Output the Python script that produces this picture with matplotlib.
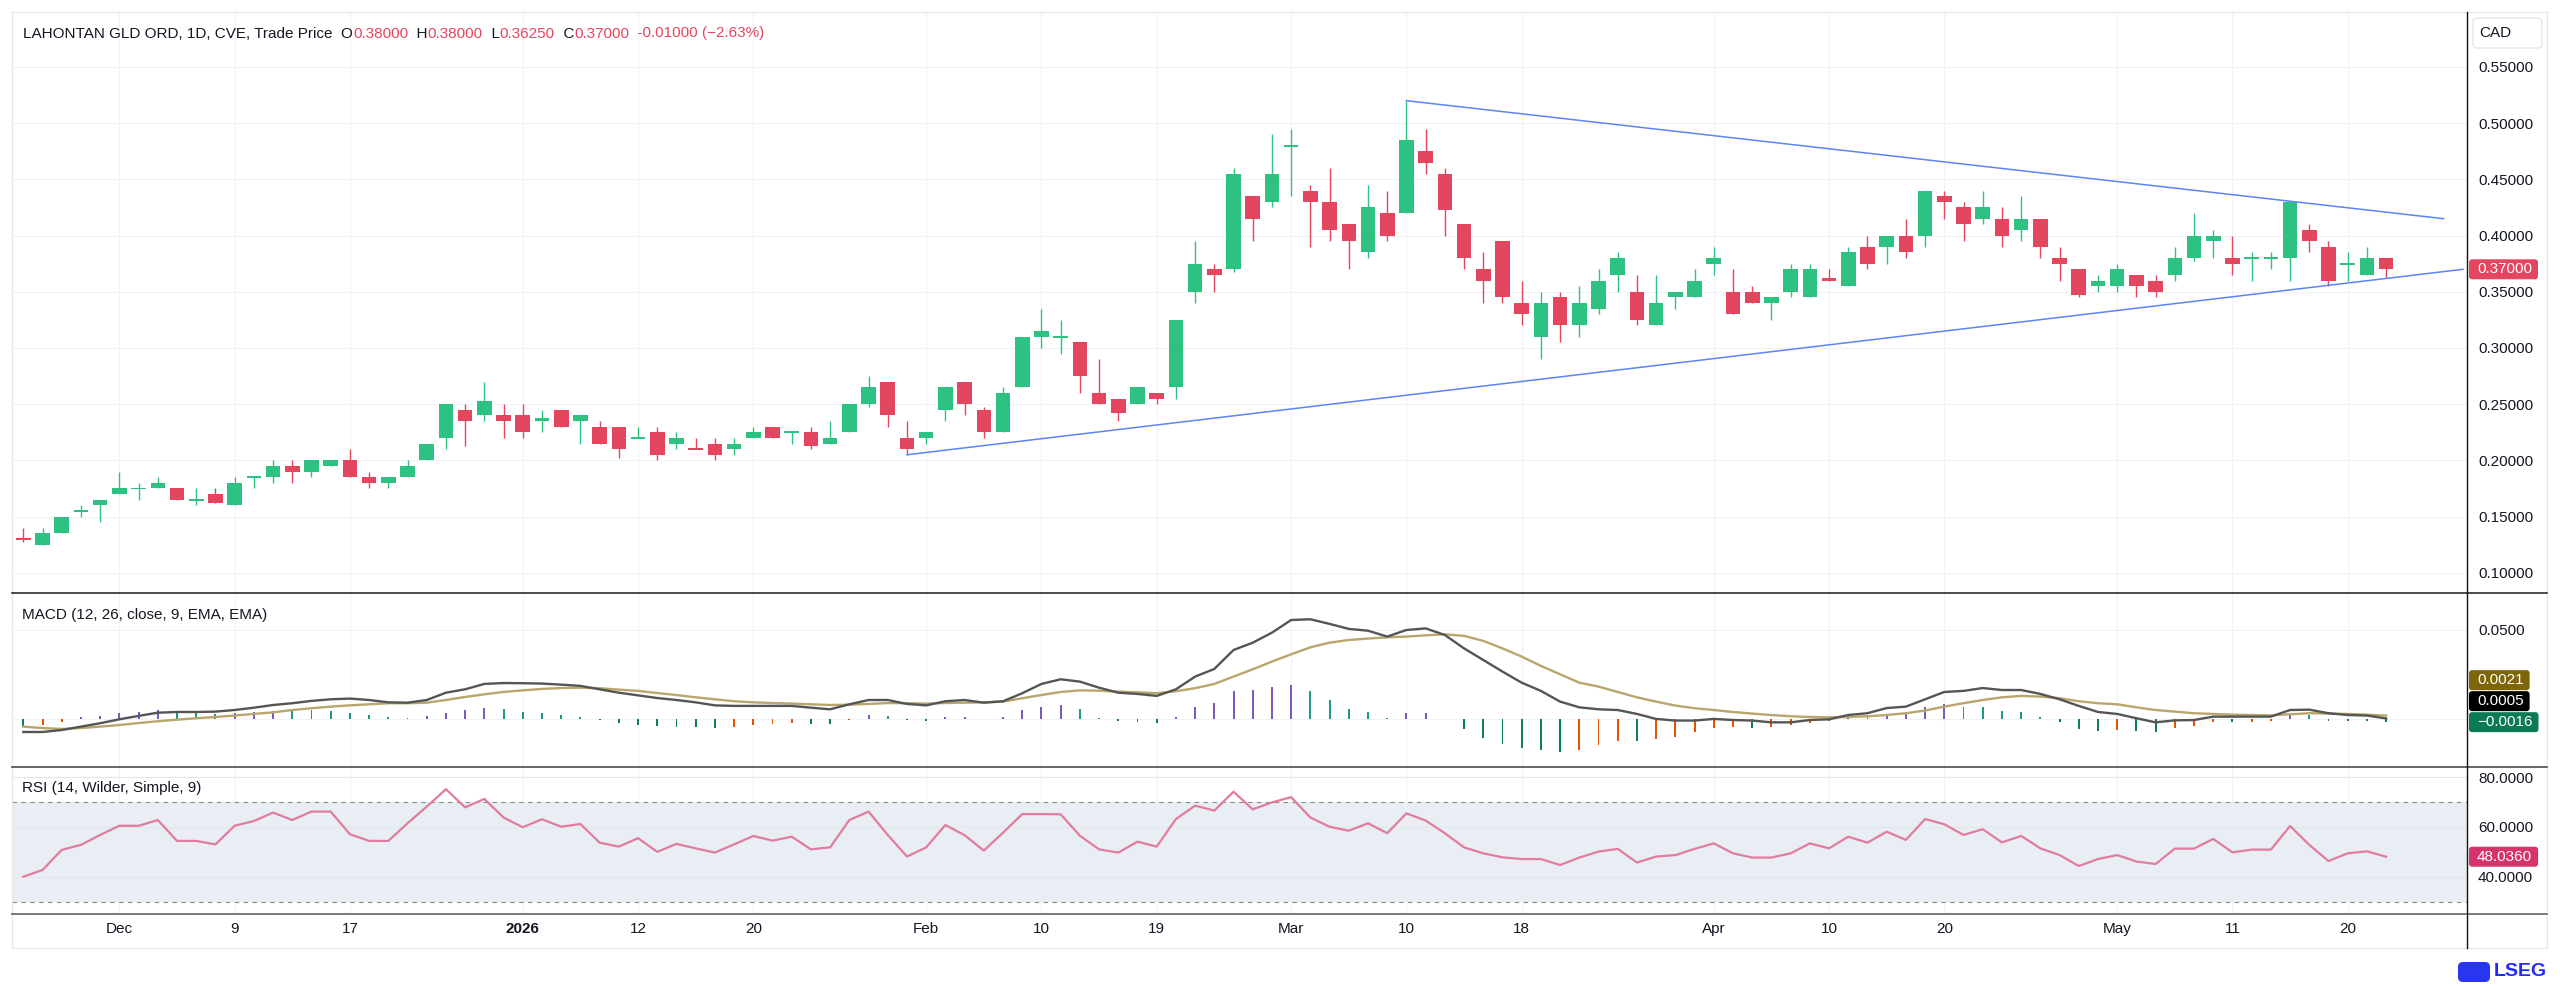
import numpy as np
import matplotlib
matplotlib.use("Agg")
import matplotlib.pyplot as plt
from matplotlib.lines import Line2D
from matplotlib.patches import FancyBboxPatch, Rectangle
import matplotlib.transforms as mtransforms

plt.rcParams["font.family"] = ["Liberation Sans", "DejaVu Sans"]

# ── candles (one per trading day, Nov 24 -> May 22) ─────────────────────
opens = [0.1305, 0.125, 0.135, 0.155, 0.16, 0.17, 0.175, 0.175, 0.175, 0.165,
         0.17, 0.16, 0.185, 0.185, 0.195, 0.19, 0.195, 0.20, 0.185, 0.18,
         0.185, 0.20, 0.22, 0.245, 0.24, 0.24, 0.24, 0.235, 0.245, 0.235,
         0.23, 0.23, 0.22, 0.225, 0.215, 0.2105, 0.215, 0.21, 0.22, 0.23,
         0.225, 0.225, 0.215, 0.225, 0.25, 0.27, 0.22, 0.22, 0.245, 0.27,
         0.245, 0.225, 0.265, 0.31, 0.31, 0.305, 0.26, 0.255, 0.25, 0.26,
         0.265, 0.35, 0.37, 0.37, 0.435, 0.43, 0.48, 0.44, 0.43, 0.41,
         0.385, 0.42, 0.42, 0.475, 0.455, 0.41, 0.37, 0.395, 0.34, 0.31,
         0.345, 0.32, 0.335, 0.365, 0.35, 0.32, 0.345, 0.345, 0.375, 0.35,
         0.35, 0.34, 0.35, 0.345, 0.3625, 0.355, 0.39, 0.39, 0.40, 0.40,
         0.435, 0.425, 0.415, 0.415, 0.405, 0.415, 0.38, 0.37, 0.355, 0.355,
         0.365, 0.36, 0.365, 0.38, 0.395, 0.38, 0.38, 0.38, 0.38, 0.405,
         0.39, 0.375, 0.365, 0.38]
highs = [0.14, 0.14, 0.15, 0.16, 0.165, 0.19, 0.18, 0.185, 0.175, 0.175,
         0.175, 0.185, 0.185, 0.20, 0.20, 0.20, 0.20, 0.21, 0.19, 0.185,
         0.20, 0.215, 0.25, 0.25, 0.27, 0.25, 0.25, 0.245, 0.245, 0.24,
         0.235, 0.23, 0.23, 0.23, 0.225, 0.22, 0.22, 0.22, 0.23, 0.23,
         0.225, 0.23, 0.235, 0.25, 0.275, 0.27, 0.235, 0.225, 0.265, 0.27,
         0.2475, 0.265, 0.31, 0.335, 0.325, 0.305, 0.29, 0.255, 0.265, 0.26,
         0.325, 0.395, 0.375, 0.46, 0.435, 0.49, 0.495, 0.445, 0.46, 0.41,
         0.445, 0.44, 0.52, 0.495, 0.46, 0.41, 0.385, 0.395, 0.36, 0.35,
         0.35, 0.355, 0.37, 0.385, 0.365, 0.365, 0.35, 0.37, 0.39, 0.37,
         0.355, 0.345, 0.375, 0.375, 0.37, 0.39, 0.40, 0.40, 0.415, 0.44,
         0.44, 0.43, 0.44, 0.425, 0.435, 0.415, 0.39, 0.37, 0.365, 0.375,
         0.365, 0.365, 0.39, 0.42, 0.405, 0.40, 0.385, 0.385, 0.43, 0.41,
         0.395, 0.385, 0.39, 0.38]
lows = [0.1275, 0.125, 0.135, 0.15, 0.145, 0.17, 0.165, 0.175, 0.165, 0.16,
        0.1625, 0.16, 0.175, 0.18, 0.18, 0.185, 0.195, 0.185, 0.175, 0.175,
        0.185, 0.20, 0.21, 0.2125, 0.235, 0.22, 0.22, 0.225, 0.23, 0.215,
        0.215, 0.2025, 0.22, 0.20, 0.21, 0.21, 0.20, 0.205, 0.22, 0.22,
        0.215, 0.21, 0.215, 0.225, 0.2475, 0.23, 0.205, 0.215, 0.235, 0.24,
        0.22, 0.225, 0.265, 0.30, 0.295, 0.26, 0.25, 0.235, 0.25, 0.25,
        0.255, 0.34, 0.35, 0.3675, 0.395, 0.425, 0.435, 0.39, 0.395, 0.37,
        0.38, 0.395, 0.42, 0.455, 0.40, 0.37, 0.34, 0.34, 0.32, 0.29,
        0.305, 0.31, 0.33, 0.35, 0.32, 0.32, 0.335, 0.345, 0.365, 0.33,
        0.34, 0.325, 0.345, 0.345, 0.36, 0.355, 0.37, 0.375, 0.38, 0.39,
        0.415, 0.395, 0.41, 0.39, 0.395, 0.38, 0.36, 0.345, 0.35, 0.35,
        0.345, 0.345, 0.36, 0.3775, 0.38, 0.365, 0.36, 0.37, 0.36, 0.385,
        0.355, 0.36, 0.365, 0.3625]
closes = [0.13, 0.135, 0.15, 0.155, 0.165, 0.175, 0.175, 0.18, 0.165, 0.165,
          0.1625, 0.18, 0.185, 0.195, 0.19, 0.20, 0.20, 0.185, 0.18, 0.185,
          0.195, 0.215, 0.25, 0.235, 0.2525, 0.235, 0.225, 0.2375, 0.23, 0.24,
          0.215, 0.21, 0.22, 0.205, 0.22, 0.21, 0.205, 0.215, 0.225, 0.22,
          0.225, 0.2125, 0.22, 0.25, 0.265, 0.24, 0.21, 0.225, 0.265, 0.25,
          0.225, 0.26, 0.31, 0.315, 0.31, 0.275, 0.25, 0.2425, 0.265, 0.255,
          0.325, 0.375, 0.365, 0.455, 0.415, 0.455, 0.48, 0.43, 0.405, 0.395,
          0.425, 0.40, 0.485, 0.465, 0.4225, 0.38, 0.36, 0.345, 0.33, 0.34,
          0.32, 0.34, 0.36, 0.38, 0.325, 0.34, 0.35, 0.36, 0.38, 0.33,
          0.34, 0.345, 0.37, 0.37, 0.36, 0.385, 0.375, 0.40, 0.385, 0.44,
          0.43, 0.41, 0.425, 0.40, 0.415, 0.39, 0.375, 0.3475, 0.36, 0.37,
          0.355, 0.35, 0.38, 0.40, 0.40, 0.375, 0.38, 0.38, 0.43, 0.395,
          0.36, 0.375, 0.38, 0.37]

# ── MACD (12, 26, 9) ─────────────────────────
macd_line = [-0.0071, -0.0071, -0.0060, -0.0041, -0.0022, 0.0000, 0.0019, 0.0037, 0.0041, 0.0041,
             0.0043, 0.0052, 0.0065, 0.0080, 0.0090, 0.0103, 0.0112, 0.0116, 0.0108, 0.0095,
             0.0093, 0.0108, 0.0149, 0.0168, 0.0198, 0.0203, 0.0202, 0.0200, 0.0194, 0.0187,
             0.0168, 0.0149, 0.0134, 0.0119, 0.0108, 0.0095, 0.0078, 0.0075, 0.0075, 0.0075,
             0.0075, 0.0065, 0.0056, 0.0084, 0.0108, 0.0108, 0.0086, 0.0078, 0.0101, 0.0108,
             0.0093, 0.0101, 0.0146, 0.0198, 0.0224, 0.0211, 0.0177, 0.0149, 0.0142, 0.0131,
             0.0168, 0.0239, 0.0282, 0.0388, 0.0429, 0.0485, 0.0556, 0.0560, 0.0534, 0.0506,
             0.0496, 0.0463, 0.0500, 0.0509, 0.0472, 0.0397, 0.0332, 0.0267, 0.0205, 0.0159,
             0.0099, 0.0067, 0.0056, 0.0052, 0.0030, 0.0002, -0.0007, -0.0007, 0.0002, -0.0004,
             -0.0007, -0.0017, -0.0017, -0.0004, 0.0000, 0.0024, 0.0034, 0.0063, 0.0071, 0.0112,
             0.0153, 0.0159, 0.0175, 0.0164, 0.0164, 0.0142, 0.0112, 0.0075, 0.0041, 0.0030,
             0.0006, -0.0017, -0.0006, -0.0004, 0.0015, 0.0015, 0.0015, 0.0015, 0.0052, 0.0054,
             0.0034, 0.0024, 0.0021, 0.0005]
signal_line = [-0.0041, -0.0049, -0.0054, -0.0049, -0.0041, -0.0032, -0.0021, -0.0011, -0.0002, 0.0006,
               0.0013, 0.0021, 0.0030, 0.0039, 0.0052, 0.0062, 0.0071, 0.0078, 0.0084, 0.0090,
               0.0090, 0.0093, 0.0108, 0.0125, 0.0140, 0.0153, 0.0162, 0.0170, 0.0175, 0.0177,
               0.0174, 0.0166, 0.0159, 0.0147, 0.0136, 0.0123, 0.0112, 0.0101, 0.0095, 0.0091,
               0.0088, 0.0084, 0.0080, 0.0082, 0.0086, 0.0091, 0.0090, 0.0088, 0.0091, 0.0093,
               0.0095, 0.0099, 0.0118, 0.0136, 0.0153, 0.0162, 0.0160, 0.0155, 0.0151, 0.0146,
               0.0157, 0.0174, 0.0198, 0.0239, 0.0280, 0.0323, 0.0364, 0.0403, 0.0429, 0.0444,
               0.0452, 0.0459, 0.0463, 0.0470, 0.0476, 0.0467, 0.0439, 0.0397, 0.0351, 0.0299,
               0.0252, 0.0205, 0.0183, 0.0153, 0.0123, 0.0099, 0.0077, 0.0062, 0.0052, 0.0041,
               0.0032, 0.0024, 0.0017, 0.0013, 0.0011, 0.0013, 0.0017, 0.0024, 0.0034, 0.0049,
               0.0071, 0.0090, 0.0108, 0.0123, 0.0131, 0.0127, 0.0118, 0.0101, 0.0090, 0.0084,
               0.0067, 0.0052, 0.0043, 0.0034, 0.0030, 0.0026, 0.0024, 0.0022, 0.0028, 0.0034,
               0.0032, 0.0030, 0.0026, 0.0021]
macd_hist = [-0.0035, -0.0030, -0.0013, 0.0011, 0.0021, 0.0037, 0.0043, 0.0052, 0.0041, 0.0037,
             0.0030, 0.0034, 0.0039, 0.0047, 0.0045, 0.0050, 0.0047, 0.0037, 0.0026, 0.0015,
             0.0007, 0.0017, 0.0034, 0.0052, 0.0063, 0.0058, 0.0041, 0.0034, 0.0022, 0.0015,
             -0.0006, -0.0019, -0.0030, -0.0037, -0.0041, -0.0043, -0.0047, -0.0041, -0.0034, -0.0028,
             -0.0022, -0.0026, -0.0028, -0.0004, 0.0024, 0.0019, -0.0006, -0.0011, 0.0011, 0.0015,
             0.0004, 0.0015, 0.0052, 0.0071, 0.0082, 0.0056, 0.0007, -0.0011, -0.0017, -0.0022,
             0.0015, 0.0071, 0.0093, 0.0159, 0.0164, 0.0181, 0.0192, 0.0159, 0.0108, 0.0060,
             0.0043, 0.0009, 0.0034, 0.0037, 0.0004, -0.0052, -0.0103, -0.0140, -0.0162, -0.0174,
             -0.0185, -0.0174, -0.0146, -0.0119, -0.0123, -0.0112, -0.0097, -0.0071, -0.0047, -0.0041,
             -0.0047, -0.0045, -0.0032, -0.0019, -0.0011, 0.0006, 0.0019, 0.0028, 0.0032, 0.0071,
             0.0086, 0.0071, 0.0071, 0.0047, 0.0043, 0.0015, -0.0013, -0.0052, -0.0063, -0.0060,
             -0.0063, -0.0071, -0.0050, -0.0037, -0.0013, -0.0017, -0.0013, -0.0011, 0.0024, 0.0022,
             -0.0007, -0.0011, -0.0011, -0.0016]

# ── RSI (14) ─────────────────────────────────────────────────────────────
rsi = [40.0, 42.7, 50.8, 52.8, 56.8, 60.5, 60.5, 62.8, 54.4, 54.4,
       53.0, 60.5, 62.4, 65.8, 62.8, 66.2, 66.2, 57.1, 54.4, 54.4,
       61.5, 68.2, 75.2, 67.9, 71.3, 63.8, 59.9, 63.1, 60.1, 61.2,
       53.7, 52.1, 55.5, 50.0, 53.2, 51.4, 49.7, 53.0, 56.4, 54.5,
       56.1, 51.0, 51.8, 62.8, 66.2, 56.8, 48.1, 51.8, 60.8, 56.7,
       50.5, 57.7, 65.2, 65.2, 65.1, 56.5, 51.0, 49.7, 54.1, 52.1,
       63.2, 68.6, 66.6, 74.2, 67.1, 69.9, 72.0, 63.8, 60.1, 58.5,
       61.5, 57.5, 65.5, 62.6, 57.5, 51.8, 49.4, 47.8, 47.1, 47.1,
       44.7, 47.7, 50.1, 51.2, 45.7, 48.1, 48.7, 51.2, 53.4, 49.4,
       47.7, 47.7, 49.4, 53.4, 51.4, 56.1, 53.7, 58.1, 54.8, 63.2,
       61.1, 56.8, 59.1, 53.8, 56.4, 51.4, 48.7, 44.3, 47.1, 48.7,
       46.1, 45.1, 51.3, 51.3, 55.2, 49.8, 50.9, 50.9, 60.4, 52.8,
       46.3, 49.4, 50.2, 48.036]

# time axis: bar index of each labelled session
tick_pos = [5, 11, 17, 26, 32, 38, 47, 53, 59, 66, 72, 78, 88, 94, 100, 109, 115, 121]
tick_lab = ["Dec", "9", "17", "2026", "12", "20", "Feb", "10", "19", "Mar",
            "10", "18", "Apr", "10", "20", "May", "11", "20"]

# drawn trendlines (bar index, price)
upper_trend_x = [72, 126]
upper_trend_y = [0.52, 0.415]
lower_trend_x = [46, 127]
lower_trend_y = [0.205, 0.37]

price_ticks = [0.10, 0.15, 0.20, 0.25, 0.30, 0.35, 0.40, 0.45, 0.50, 0.55]
rsi_ticks = [40, 60, 80]

# ── style ────────────────────────────────────────────────────────────────
GREEN = "#2dc281"
RED = "#e4465f"
TEXT = "#131722"
GRID = "#f0f2f5"
TREND = "#5d86f5"
W, H = 2560, 986
FS = 11

fig = plt.figure(figsize=(W / 100, H / 100), dpi=100)
fig.patch.set_facecolor("white")


def rect(x0, y0, x1, y1):
    return [x0 / W, 1 - y1 / H, (x1 - x0) / W, (y1 - y0) / H]


ax_p = fig.add_axes(rect(12, 12, 2467, 593))
ax_m = fig.add_axes(rect(12, 593, 2467, 767), sharex=ax_p)
ax_r = fig.add_axes(rect(12, 767, 2467, 914), sharex=ax_p)

for ax in (ax_p, ax_m, ax_r):
    for s in ax.spines.values():
        s.set_visible(False)
    ax.yaxis.tick_right()
    ax.tick_params(length=0, labelsize=FS, labelcolor=TEXT, pad=7.9)
    ax.tick_params(axis="x", pad=6)
    for t in tick_pos:
        ax.axvline(t, color=GRID, lw=0.8, zorder=0)
ax_p.tick_params(labelbottom=False)
ax_m.tick_params(labelbottom=False)

idx = np.arange(len(closes))
o = np.array(opens)
h = np.array(highs)
l = np.array(lows)
c = np.array(closes)

# ── price pane ───────────────────────────────────────────────────────────
for p in price_ticks:
    ax_p.axhline(p, color=GRID, lw=0.8, zorder=0)
cols = np.where(c >= o, GREEN, RED)
ax_p.vlines(idx, l, h, colors=cols, lw=1.0, zorder=2)
body = np.abs(c - o)
body_h = np.maximum(body, 0.0016)
body_b = np.minimum(o, c) - (body_h - body) / 2
ax_p.bar(idx, body_h, bottom=body_b, width=0.76, color=cols, lw=0, zorder=3)
ax_p.plot(upper_trend_x, upper_trend_y, color=TREND, lw=1.1, zorder=4)
ax_p.plot(lower_trend_x, lower_trend_y, color=TREND, lw=1.1, zorder=4)
ax_p.set_ylim(0.082, 0.5989)
ax_p.set_yticks(price_ticks)
ax_p.set_yticklabels([f"{p:.5f}" for p in price_ticks])
ax_p.set_xlim(-0.59, 127.21)

# ── MACD pane ────────────────────────────────────────────────────────────
ax_m.axhline(0.05, color=GRID, lw=0.8, zorder=0)
ax_m.axhline(0.0, color=GRID, lw=0.8, zorder=0)
hcols = []
for i, v in enumerate(macd_hist):
    prev = macd_hist[i - 1] if i > 0 else v
    if v >= 0:
        hcols.append("#7e57c2" if v > prev else "#1b9a86")
    else:
        hcols.append("#e65100" if v > prev else "#0d7f5f")
ax_m.bar(idx, macd_hist, width=0.1, color=hcols, lw=0, zorder=2)
ax_m.plot(idx, signal_line, color="#b8a66c", lw=1.7, zorder=3)
ax_m.plot(idx, macd_line, color="#555555", lw=1.7, zorder=4)
ax_m.set_ylim(-0.0267, 0.0707)
ax_m.set_yticks([0.05])
ax_m.set_yticklabels(["0.0500"])

# ── RSI pane ─────────────────────────────────────────────────────────────
ax_r.axhspan(30, 70, color="#e8eef4", lw=0, zorder=0)
for t in rsi_ticks:
    ax_r.axhline(t, color="#e3e6ea", lw=0.8, zorder=1)
for t in (30, 70):
    ax_r.axhline(t, color="#8a8a8a", lw=0.8, dashes=(4, 4), zorder=1)
ax_r.plot(idx, rsi, color="#e27ba0", lw=1.6, zorder=3)
ax_r.set_ylim(24.99, 84.14)
ax_r.set_yticks(rsi_ticks)
ax_r.set_yticklabels([f"{t:.4f}" for t in rsi_ticks])
ax_r.set_xticks(tick_pos)
ax_r.set_xticklabels(tick_lab)
for lab in ax_r.get_xticklabels():
    if lab.get_text() == "2026":
        lab.set_fontweight("bold")

# ── frame / separators ──────────────────────────────────────────────────
def hline(y, x0, x1, color, lw):
    fig.add_artist(Line2D([x0 / W, x1 / W], [1 - y / H, 1 - y / H], color=color, lw=lw))


def vline(x, y0, y1, color, lw):
    fig.add_artist(Line2D([x / W, x / W], [1 - y0 / H, 1 - y1 / H], color=color, lw=lw))


hline(12, 12, 2547, "#e6e8ec", 1.0)
hline(948, 12, 2547, "#e6e8ec", 1.0)
vline(12, 12, 948, "#e6e8ec", 1.0)
vline(2547, 12, 948, "#e6e8ec", 1.0)
hline(593, 12, 2547, "#1a1a1a", 1.1)
hline(767, 12, 2547, "#3a3a3a", 1.1)
hline(914, 12, 2547, "#555555", 1.1)
vline(2467, 12, 948, "#111111", 1.0)

# ── legend lines (chained coloured text) ────────────────────────────────
def chain(x_px, y_px, parts):
    t = fig.text(x_px / W, 1 - y_px / H, parts[0][0], color=parts[0][1],
                 fontsize=FS, va="center", ha="left")
    for s, col in parts[1:]:
        t = ax_p.annotate(s, xy=(1, 0.5), xycoords=t, va="center", ha="left",
                          color=col, fontsize=FS, annotation_clip=False)


chain(23, 33.5, [("LAHONTAN GLD ORD, 1D, CVE, Trade Price  O", TEXT), ("0.38000", RED),
                 ("  H", TEXT), ("0.38000", RED), ("  L", TEXT), ("0.36250", RED),
                 ("  C", TEXT), ("0.37000", RED), ("  -0.01000 (\u22122.63%)", RED)])
chain(22, 615.5, [("MACD (12, 26, close, 9, EMA, EMA)  ", TEXT), ("\u22120.0016", "#138a66"),
                  ("  0.0005", "#111111"), ("  0.0021", "#9a7f22")])
chain(22, 788, [("RSI (14, Wilder, Simple, 9)  ", TEXT), ("48.0360", "#e0457b")])

# ── value tags on the right scale ───────────────────────────────────────
renderer = fig.canvas.get_renderer()
ident = mtransforms.IdentityTransform()


def tag(y_disp, text, bg):
    t = fig.text(2477 / W, y_disp / H, text, color="white", fontsize=FS,
                 va="center", ha="left", zorder=11)
    w = t.get_window_extent(renderer).width
    box = FancyBboxPatch((2469, y_disp - 10), 2477 - 2469 + w + 6, 20,
                         boxstyle="round,pad=0,rounding_size=3",
                         transform=ident, facecolor=bg, edgecolor="none", zorder=10)
    fig.add_artist(box)


def disp_y(ax, v):
    return ax.transData.transform((0, v))[1]


tag(disp_y(ax_p, closes[-1]), f"{closes[-1]:.5f}", RED)
tag(disp_y(ax_r, rsi[-1]), f"{rsi[-1]:.4f}", "#d6336c")

stack = sorted([(macd_hist[-1], "#0b7a57"), (macd_line[-1], "#000000"),
                (signal_line[-1], "#7d6508")], key=lambda s: s[0])
prev_y = None
for v, bg in stack:
    y = disp_y(ax_m, v)
    if prev_y is not None:
        y = max(y, prev_y + 21)
    prev_y = y
    tag(y, f"{v:.4f}".replace("-", "\u2212"), bg)

# currency box
fig.add_artist(FancyBboxPatch((2473, H - 48), 69, 30, boxstyle="round,pad=0,rounding_size=4",
                              transform=ident, facecolor="white", edgecolor="#e3e6ea", lw=1))
fig.text(2479 / W, 1 - 33 / H, "CAD", color=TEXT, fontsize=FS, va="center", ha="left")

# LSEG mark
fig.add_artist(FancyBboxPatch((2458, H - 982), 32, 20, boxstyle="round,pad=0,rounding_size=5",
                              transform=ident, facecolor="#2a35f0", edgecolor="none"))
fig.text(2547 / W, 1 - 972 / H, "LSEG", color="#1f2cf5", fontsize=14,
         fontweight="bold", va="center", ha="right")

fig.savefig("out.png", dpi=100)
